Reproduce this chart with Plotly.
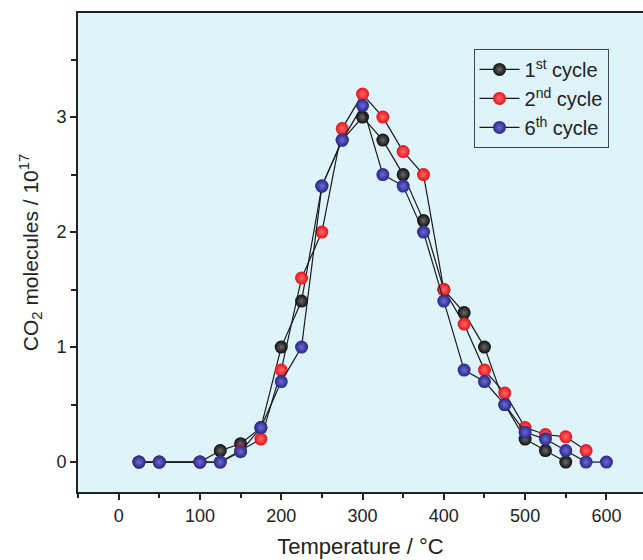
import plotly.graph_objects as go

temp_1st = [25, 50, 100, 125, 150, 175, 200, 225, 250, 275, 300, 325, 350, 375, 400, 425, 450, 475, 500, 525, 550]
co2_1st = [0, 0, 0, 0.10, 0.16, 0.30, 1.00, 1.40, 2.40, 2.80, 3.00, 2.80, 2.50, 2.10, 1.50, 1.30, 1.00, 0.50, 0.20, 0.10, 0.0]

temp_2nd = [25, 50, 100, 125, 150, 175, 200, 225, 250, 275, 300, 325, 350, 375, 400, 425, 450, 475, 500, 525, 550, 575]
co2_2nd = [0, 0, 0, 0, 0.10, 0.20, 0.80, 1.60, 2.00, 2.90, 3.20, 3.00, 2.70, 2.50, 1.50, 1.20, 0.80, 0.60, 0.30, 0.24, 0.22, 0.10]

temp_6th = [25, 50, 100, 125, 150, 175, 200, 225, 250, 275, 300, 325, 350, 375, 400, 425, 450, 475, 500, 525, 550, 575, 600]
co2_6th = [0, 0, 0, 0, 0.09, 0.30, 0.70, 1.00, 2.40, 2.80, 3.10, 2.50, 2.40, 2.00, 1.40, 0.80, 0.70, 0.50, 0.26, 0.20, 0.10, 0, 0]

names = ["1<sup>st</sup> cycle", "2<sup>nd</sup> cycle", "6<sup>th</sup> cycle"]
colors = ["#101010", "#e3141a", "#28288a"]
highlights = ["#6a6a6a", "#ff6a6a", "#6a6ad0"]

fig = go.Figure()
for xs, ys, nm, c, h in zip([temp_1st, temp_2nd, temp_6th], [co2_1st, co2_2nd, co2_6th], names, colors, highlights):
    fig.add_trace(go.Scatter(
        x=xs, y=ys, name=nm, mode="lines+markers",
        line=dict(color="#1a1a1a", width=1.2),
        marker=dict(size=13, color=c, line=dict(width=0),
                    gradient=dict(type="radial", color=h)),
    ))

fig.update_layout(
    width=643, height=560,
    margin=dict(l=78, r=0, t=13, b=68),
    paper_bgcolor="white",
    plot_bgcolor="#dff3fb",
    font=dict(family="Liberation Sans, Arial, sans-serif", size=18, color="#222"),
    showlegend=True,
    legend=dict(x=0.70, y=0.925, xanchor="left", yanchor="top",
                bgcolor="#dff3fb", bordercolor="#444", borderwidth=1,
                font=dict(size=20), tracegroupgap=0, itemwidth=40),
    xaxis=dict(range=[-50, 645], showgrid=False, zeroline=False,
               showline=True, linecolor="#222", linewidth=2, mirror=True,
               ticks="outside", ticklen=6, tickwidth=1.5, tickcolor="#222",
               tickmode="array", tickvals=[0, 100, 200, 300, 400, 500, 600],
               minor=dict(tickvals=[-50, 50, 150, 250, 350, 450, 550], ticks="outside", ticklen=4, tickwidth=1.5, tickcolor="#222"),
               title=dict(text="Temperature / °C", font=dict(size=22), standoff=14)),
    yaxis=dict(range=[-0.26, 3.905], showgrid=False, zeroline=False,
               showline=True, linecolor="#222", linewidth=2,
               ticks="outside", ticklen=6, tickwidth=1.5, tickcolor="#222",
               tickmode="array", tickvals=[0, 1, 2, 3],
               minor=dict(tickvals=[0.5, 1.5, 2.5, 3.5], ticks="outside", ticklen=5, tickwidth=1.5, tickcolor="#222"),
               title=dict(text="CO<sub>2</sub> molecules / 10<sup>17</sup>", font=dict(size=21), standoff=12)),
)

fig.write_html("out.html")
